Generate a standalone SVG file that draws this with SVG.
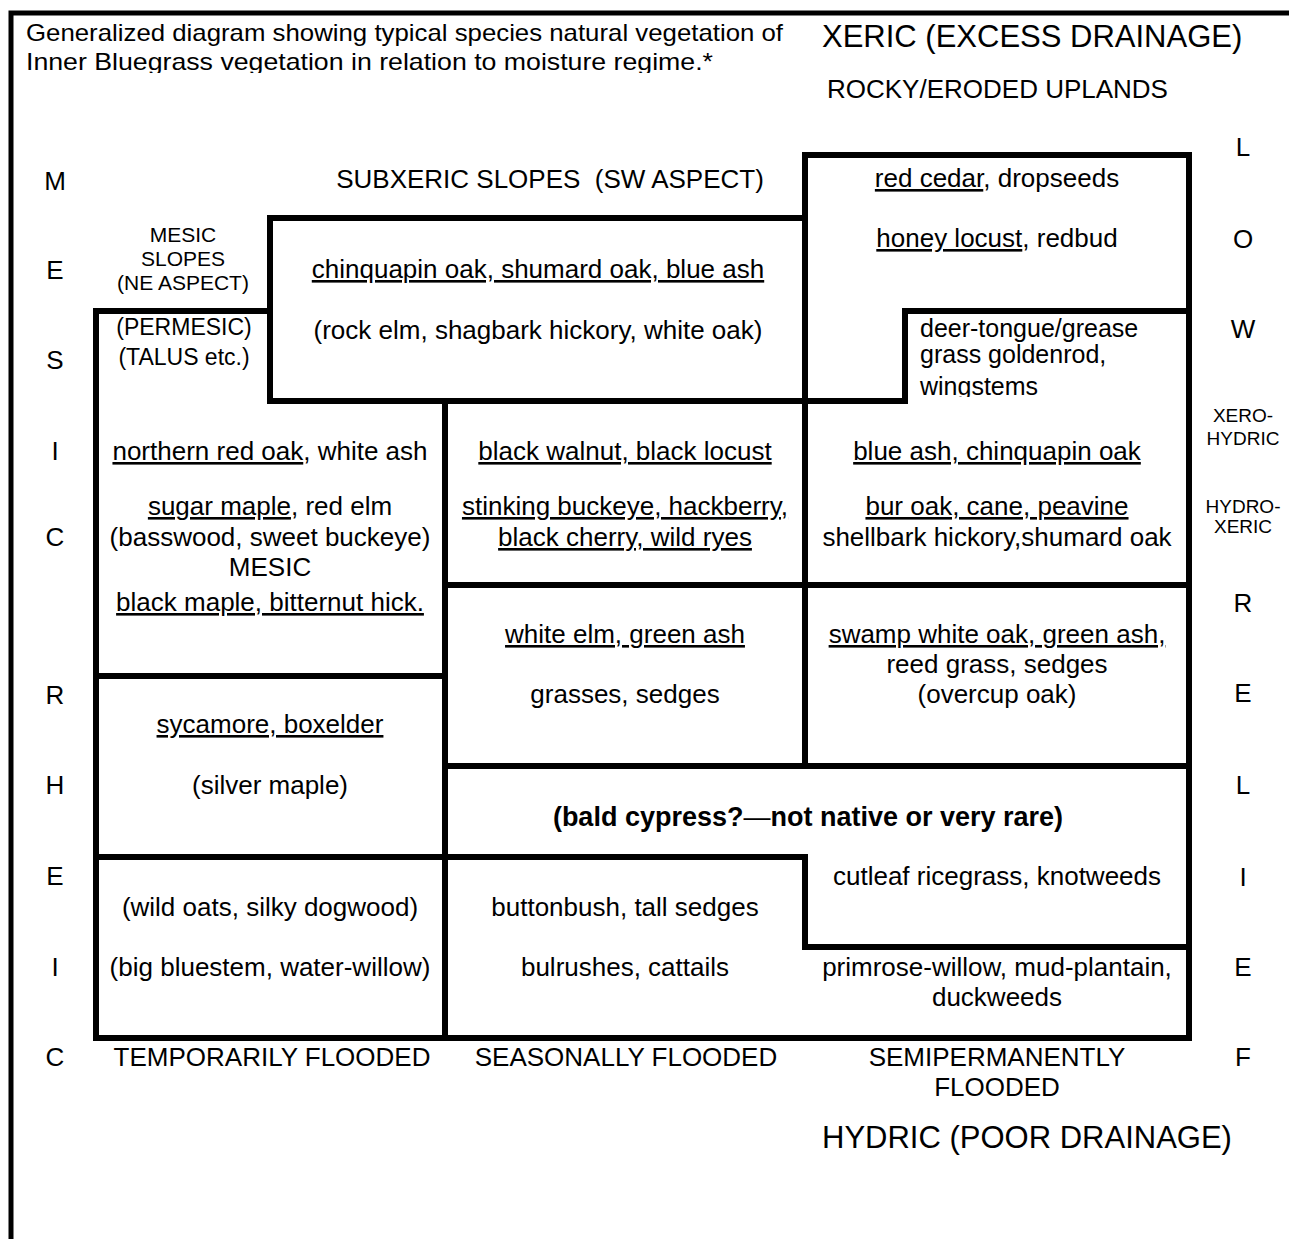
<svg xmlns="http://www.w3.org/2000/svg" width="1289" height="1239" viewBox="0 0 1289 1239">
<style>
text{font-family:"Liberation Sans",Arial,sans-serif;fill:#000;font-size:26px}
.c{text-anchor:middle}
.t{font-size:24px}
.m{font-size:23px}
.d{font-size:25px}
.s{font-size:21px}
.xs{font-size:19px}
.big{font-size:31px}
.u{text-decoration:underline}
.b{font-weight:bold;font-size:27px}
.ln{stroke:#000;stroke-width:6;fill:none;stroke-linecap:square}
.bd{stroke:#000;stroke-width:5;fill:none}
</style>
<defs>
<clipPath id="clipTitle"><rect x="0" y="0" width="800" height="73"/></clipPath>
<clipPath id="clipDeer"><rect x="905" y="311" width="284" height="86"/></clipPath>
</defs>
<rect width="1289" height="1239" fill="#fff"/>
<g id="frame">
<path class="bd" d="M11,1239 V13 H1289"/>
</g>
<g id="connectors">
<path class="ln" d="M805,155 H1189 V1038 H96 V311 H270"/>
<path class="ln" d="M270,218 H805"/>
<path class="ln" d="M270,218 V401 H905 V311 H1189"/>
<path class="ln" d="M805,155 V766"/>
<path class="ln" d="M445,401 V1038"/>
<path class="ln" d="M96,676 H445"/>
<path class="ln" d="M445,585 H1189"/>
<path class="ln" d="M445,766 H1189"/>
<path class="ln" d="M96,857 H805 V947 H1189"/>
</g>
<g id="title" clip-path="url(#clipTitle)">
<text class="t" x="26" y="41" textLength="757" lengthAdjust="spacingAndGlyphs">Generalized diagram showing typical species natural vegetation of</text>
<text class="t" x="26" y="70" textLength="687" lengthAdjust="spacingAndGlyphs">Inner Bluegrass vegetation in relation to moisture regime.*</text>
</g>
<g id="axis-labels">
<text class="big" x="822" y="47">XERIC (EXCESS DRAINAGE)</text>
<text x="827" y="98">ROCKY/ERODED UPLANDS</text>
<text class="big" x="822" y="1148">HYDRIC (POOR DRAINAGE)</text>
<text class="c" x="272" y="1066">TEMPORARILY FLOODED</text>
<text class="c" x="626" y="1066">SEASONALLY FLOODED</text>
<text class="c" x="997" y="1066">SEMIPERMANENTLY</text>
<text class="c" x="997" y="1096">FLOODED</text>
</g>
<g id="left-letters">
<text class="c" x="55" y="190">M</text>
<text class="c" x="55" y="279">E</text>
<text class="c" x="55" y="369">S</text>
<text class="c" x="55" y="460">I</text>
<text class="c" x="55" y="546">C</text>
<text class="c" x="55" y="704">R</text>
<text class="c" x="55" y="794">H</text>
<text class="c" x="55" y="885">E</text>
<text class="c" x="55" y="976">I</text>
<text class="c" x="55" y="1066">C</text>
</g>
<g id="right-letters">
<text class="c" x="1243" y="156">L</text>
<text class="c" x="1243" y="248">O</text>
<text class="c" x="1243" y="338">W</text>
<text class="c xs" x="1243" y="422">XERO-</text>
<text class="c xs" x="1243" y="445">HYDRIC</text>
<text class="c xs" x="1243" y="513">HYDRO-</text>
<text class="c xs" x="1243" y="533">XERIC</text>
<text class="c" x="1243" y="612">R</text>
<text class="c" x="1243" y="702">E</text>
<text class="c" x="1243" y="794">L</text>
<text class="c" x="1243" y="886">I</text>
<text class="c" x="1243" y="976">E</text>
<text class="c" x="1243" y="1066">F</text>
</g>
<g id="subxeric">
<text class="c" x="550" y="188">SUBXERIC SLOPES&#160; (SW ASPECT)</text>
</g>
<g id="mesic-slopes">
<text class="c s" x="183" y="242">MESIC</text>
<text class="c s" x="183" y="266">SLOPES</text>
<text class="c s" x="183" y="290">(NE ASPECT)</text>
</g>
<g id="permesic">
<text class="c m" x="184" y="335">(PERMESIC)</text>
<text class="c m" x="184" y="365">(TALUS etc.)</text>
</g>
<g id="chinquapin">
<text class="c u" x="538" y="278">chinquapin oak, shumard oak, blue ash</text>
<text class="c" x="538" y="339">(rock elm, shagbark hickory, white oak)</text>
</g>
<g id="red-cedar">
<text class="c" x="997" y="187"><tspan class="u">red cedar</tspan>, dropseeds</text>
<text class="c" x="997" y="247"><tspan class="u">honey locust</tspan>, redbud</text>
</g>
<g id="deer-tongue" clip-path="url(#clipDeer)">
<text class="d" x="920" y="337">deer-tongue/grease</text>
<text class="d" x="920" y="363">grass goldenrod,</text>
<text class="d" x="920" y="395">wingstems</text>
</g>
<g id="northern-red-oak">
<text class="c" x="270" y="460"><tspan class="u">northern red oak</tspan>, white ash</text>
<text class="c" x="270" y="515"><tspan class="u">sugar maple</tspan>, red elm</text>
<text class="c" x="270" y="546">(basswood, sweet buckeye)</text>
<text class="c" x="270" y="576">MESIC</text>
<text class="c u" x="270" y="611">black maple, bitternut hick.</text>
</g>
<g id="black-walnut">
<text class="c u" x="625" y="460">black walnut, black locust</text>
<text class="c u" x="625" y="515">stinking buckeye, hackberry,</text>
<text class="c u" x="625" y="546">black cherry, wild ryes</text>
</g>
<g id="blue-ash">
<text class="c u" x="997" y="460">blue ash, chinquapin oak</text>
<text class="c u" x="997" y="515">bur oak, cane, peavine</text>
<text class="c" x="997" y="546">shellbark hickory,shumard oak</text>
</g>
<g id="white-elm">
<text class="c u" x="625" y="643">white elm, green ash</text>
<text class="c" x="625" y="703">grasses, sedges</text>
</g>
<g id="swamp-white-oak">
<text class="c u" x="997" y="643">swamp white oak, green ash,</text>
<text class="c" x="997" y="673">reed grass, sedges</text>
<text class="c" x="997" y="703">(overcup oak)</text>
</g>
<g id="sycamore">
<text class="c u" x="270" y="733">sycamore, boxelder</text>
<text class="c" x="270" y="794">(silver maple)</text>
</g>
<g id="bald-cypress">
<text class="c b" x="808" y="826">(bald cypress?<tspan font-weight="normal">—</tspan>not native or very rare)</text>
</g>
<g id="cutleaf">
<text class="c" x="997" y="885">cutleaf ricegrass, knotweeds</text>
</g>
<g id="wild-oats">
<text class="c" x="270" y="916">(wild oats, silky dogwood)</text>
<text class="c" x="270" y="976">(big bluestem, water-willow)</text>
</g>
<g id="buttonbush">
<text class="c" x="625" y="916">buttonbush, tall sedges</text>
<text class="c" x="625" y="976">bulrushes, cattails</text>
</g>
<g id="primrose">
<text class="c" x="997" y="976">primrose-willow, mud-plantain,</text>
<text class="c" x="997" y="1006">duckweeds</text>
</g>
</svg>
